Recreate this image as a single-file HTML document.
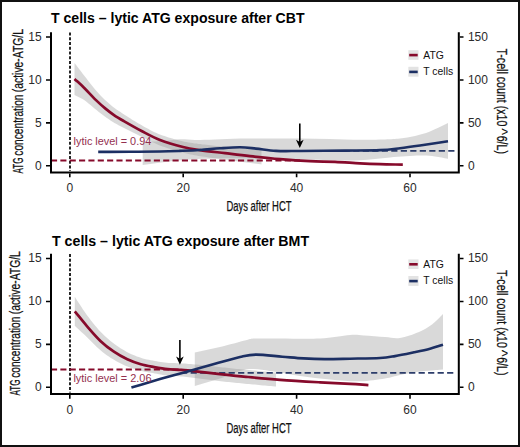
<!DOCTYPE html>
<html><head><meta charset="utf-8"><style>
html,body{margin:0;padding:0;background:#fff;}
#f{position:relative;width:520px;height:447px;box-sizing:border-box;border:2px solid #111;overflow:hidden;background:#fff;}
svg{position:absolute;left:-2px;top:-2px;}
</style></head><body><div id="f">
<svg width="520" height="447" viewBox="0 0 520 447">
<g transform="translate(0,0)">
<path d="M74.5,62.9 L76.5,65.5 L78.5,68.2 L80.5,70.8 L82.5,73.5 L84.5,76.1 L86.5,78.6 L88.5,81.2 L90.5,83.8 L92.5,86.3 L94.5,88.7 L96.5,91.0 L98.5,93.2 L100.5,95.4 L102.5,97.4 L104.5,99.4 L106.5,101.3 L108.5,103.1 L110.5,104.8 L112.5,106.4 L114.5,107.9 L116.5,109.4 L118.5,110.8 L120.5,112.1 L122.5,113.4 L124.5,114.7 L126.5,116.0 L128.5,117.3 L130.5,118.6 L132.5,119.9 L134.5,121.1 L136.5,122.3 L138.5,123.5 L140.5,124.6 L142.5,125.8 L144.5,126.9 L146.5,128.0 L148.5,129.1 L150.5,130.2 L152.5,131.2 L154.5,132.2 L156.5,133.1 L158.5,133.9 L160.5,134.7 L162.5,135.5 L164.5,136.1 L166.5,136.8 L168.5,137.4 L170.5,138.0 L172.5,138.6 L174.5,139.2 L176.5,139.7 L178.5,140.2 L180.5,140.7 L182.5,141.2 L184.5,141.7 L186.5,142.1 L188.5,142.5 L190.5,142.8 L192.5,143.1 L194.5,143.4 L196.5,143.6 L198.5,143.9 L200.5,144.1 L202.5,144.4 L204.5,144.6 L206.5,144.8 L208.5,145.1 L210.5,145.3 L212.5,145.5 L214.5,145.7 L216.5,145.9 L218.5,146.1 L220.5,146.3 L222.5,146.5 L224.5,146.7 L226.5,146.9 L228.5,147.1 L230.5,147.4 L232.5,147.6 L234.5,147.8 L236.5,148.0 L238.5,148.2 L240.5,148.4 L242.5,148.6 L244.5,148.8 L246.5,149.0 L248.5,149.2 L250.5,149.4 L252.5,149.6 L254.5,149.8 L256.5,150.0 L258.5,150.2 L260.5,150.3 L261.5,150.4 L261.5,164.4 L260.5,164.3 L258.5,164.1 L256.5,163.8 L254.5,163.6 L252.5,163.3 L250.5,163.1 L248.5,162.8 L246.5,162.6 L244.5,162.3 L242.5,162.1 L240.5,161.8 L238.5,161.5 L236.5,161.2 L234.5,161.0 L232.5,160.7 L230.5,160.4 L228.5,160.1 L226.5,159.8 L224.5,159.6 L222.5,159.3 L220.5,159.0 L218.5,158.8 L216.5,158.5 L214.5,158.2 L212.5,158.0 L210.5,157.7 L208.5,157.4 L206.5,157.1 L204.5,156.8 L202.5,156.5 L200.5,156.2 L198.5,155.9 L196.5,155.5 L194.5,155.2 L192.5,154.8 L190.5,154.5 L188.5,154.0 L186.5,153.6 L184.5,153.1 L182.5,152.5 L180.5,152.0 L178.5,151.4 L176.5,150.8 L174.5,150.3 L172.5,149.7 L170.5,149.0 L168.5,148.4 L166.5,147.8 L164.5,147.1 L162.5,146.4 L160.5,145.7 L158.5,144.9 L156.5,144.0 L154.5,143.1 L152.5,142.2 L150.5,141.2 L148.5,140.2 L146.5,139.2 L144.5,138.2 L142.5,137.2 L140.5,136.2 L138.5,135.2 L136.5,134.2 L134.5,133.2 L132.5,132.2 L130.5,131.2 L128.5,130.2 L126.5,129.2 L124.5,128.2 L122.5,127.2 L120.5,126.2 L118.5,125.2 L116.5,124.1 L114.5,123.0 L112.5,121.8 L110.5,120.5 L108.5,119.1 L106.5,117.7 L104.5,116.2 L102.5,114.7 L100.5,113.2 L98.5,111.7 L96.5,110.1 L94.5,108.5 L92.5,106.8 L90.5,105.1 L88.5,103.5 L86.5,101.8 L84.5,100.3 L82.5,99.0 L80.5,97.9 L78.5,96.9 L76.5,95.9 L74.5,94.9 Z" fill="#999" fill-opacity="0.37"/>
<path d="M142.70,141.80 C150.13,141.53 158.78,141.42 165.00,141.00 C171.22,140.58 175.00,139.47 180.00,139.30 C185.00,139.13 189.17,139.97 195.00,140.00 C200.83,140.03 207.50,139.73 215.00,139.50 C222.50,139.27 230.83,138.75 240.00,138.60 C249.17,138.45 260.00,138.63 270.00,138.60 C280.00,138.57 290.00,138.33 300.00,138.40 C310.00,138.47 320.00,138.77 330.00,139.00 C340.00,139.23 350.83,139.72 360.00,139.80 C369.17,139.88 378.33,139.70 385.00,139.50 C391.67,139.30 395.00,139.18 400.00,138.60 C405.00,138.02 410.00,137.18 415.00,136.00 C420.00,134.82 424.50,133.65 430.00,131.50 C435.50,129.35 442.00,125.90 448.00,123.10 L448.00,158.80 C443.67,158.03 439.67,157.03 435.00,156.50 C430.33,155.97 427.50,155.43 420.00,155.60 C412.50,155.77 400.00,156.73 390.00,157.50 C380.00,158.27 370.00,159.75 360.00,160.20 C350.00,160.65 340.00,160.32 330.00,160.20 C320.00,160.08 311.67,159.78 300.00,159.50 C288.33,159.22 273.33,158.67 260.00,158.50 C246.67,158.33 231.67,158.33 220.00,158.50 C208.33,158.67 199.17,158.92 190.00,159.50 C180.83,160.08 172.88,161.07 165.00,162.00 C157.12,162.93 150.13,164.07 142.70,165.10 Z" fill="#999" fill-opacity="0.37"/>
<line x1="70" y1="32.5" x2="70" y2="171" stroke="#000" stroke-width="1.7" stroke-dasharray="3,1.75"/>
<line x1="51" y1="160.5" x2="300" y2="160.5" stroke="#860a2b" stroke-width="1.8" stroke-dasharray="6.1,3.25"/>
<line x1="300" y1="150.8" x2="455" y2="150.8" stroke="#2c3d6a" stroke-width="1.7" stroke-dasharray="6.2,3.3" stroke-dashoffset="3.75"/>
<path d="M74.50,78.90 C77.67,81.83 80.42,84.17 84.00,87.70 C87.58,91.23 92.37,96.57 96.00,100.10 C99.63,103.63 102.80,106.40 105.80,108.90 C108.80,111.40 111.02,113.08 114.00,115.10 C116.98,117.12 119.10,118.35 123.70,121.00 C128.30,123.65 135.55,127.83 141.60,131.00 C147.65,134.17 153.10,137.33 160.00,140.00 C166.90,142.67 176.33,145.32 183.00,147.00 C189.67,148.68 193.00,149.07 200.00,150.10 C207.00,151.13 216.67,152.18 225.00,153.20 C233.33,154.22 240.83,155.20 250.00,156.20 C259.17,157.20 270.00,158.37 280.00,159.20 C290.00,160.03 300.83,160.77 310.00,161.20 C319.17,161.63 326.67,161.43 335.00,161.80 C343.33,162.17 352.50,163.00 360.00,163.40 C367.50,163.80 372.87,164.00 380.00,164.20 C387.13,164.40 395.20,164.47 402.80,164.60" fill="none" stroke="#860a2b" stroke-width="2.7" stroke-linecap="butt"/>
<path d="M98.20,151.90 C108.80,151.87 119.70,151.87 130.00,151.80 C140.30,151.73 151.67,151.65 160.00,151.50 C168.33,151.35 173.33,151.15 180.00,150.90 C186.67,150.65 193.33,150.43 200.00,150.00 C206.67,149.57 213.33,148.75 220.00,148.30 C226.67,147.85 234.00,147.25 240.00,147.30 C246.00,147.35 250.00,148.00 256.00,148.60 C262.00,149.20 268.67,150.50 276.00,150.90 C283.33,151.30 288.50,151.05 300.00,151.00 C311.50,150.95 331.67,150.75 345.00,150.60 C358.33,150.45 370.83,150.50 380.00,150.10 C389.17,149.70 393.33,148.97 400.00,148.20 C406.67,147.43 412.00,146.67 420.00,145.50 C428.00,144.33 438.67,142.63 448.00,141.20" fill="none" stroke="#1c2f63" stroke-width="2.6" stroke-linecap="butt"/>
<text x="73.6" y="145.4" font-size="11" fill="#94304f" font-family="'Liberation Sans', sans-serif" textLength="77.7" lengthAdjust="spacingAndGlyphs">lytic level = 0.94</text>
<line x1="299.8" y1="123.5" x2="299.8" y2="144" stroke="#000" stroke-width="1.6"/>
<path d="M296.0,139.7 L299.8,142 L303.6,139.7 L299.8,148 Z" fill="#000"/>
<path d="M51,32.3 V173.5 M50,172.5 H459.8 M458.8,32.3 V173.5" fill="none" stroke="#000" stroke-width="2"/>
<path d="M46,165.80 H50 M459.8,165.80 H463.5 M46,122.87 H50 M459.8,122.87 H463.5 M46,79.93 H50 M459.8,79.93 H463.5 M46,37.00 H50 M459.8,37.00 H463.5 M69.80,173.5 V177.3 M183.20,173.5 V177.3 M296.60,173.5 V177.3 M410.00,173.5 V177.3" stroke="#000" stroke-width="1.6" fill="none"/>
<text x="41.6" y="169.70" font-size="12" text-anchor="end" fill="#2b2b2b" font-family="'Liberation Sans', sans-serif">0</text>
<text x="467.9" y="169.70" font-size="12" fill="#2b2b2b" font-family="'Liberation Sans', sans-serif">0</text>
<text x="41.6" y="126.77" font-size="12" text-anchor="end" fill="#2b2b2b" font-family="'Liberation Sans', sans-serif">5</text>
<text x="467.9" y="126.77" font-size="12" fill="#2b2b2b" font-family="'Liberation Sans', sans-serif">50</text>
<text x="41.6" y="83.83" font-size="12" text-anchor="end" fill="#2b2b2b" font-family="'Liberation Sans', sans-serif">10</text>
<text x="467.9" y="83.83" font-size="12" fill="#2b2b2b" font-family="'Liberation Sans', sans-serif">100</text>
<text x="41.6" y="40.90" font-size="12" text-anchor="end" fill="#2b2b2b" font-family="'Liberation Sans', sans-serif">15</text>
<text x="467.9" y="40.90" font-size="12" fill="#2b2b2b" font-family="'Liberation Sans', sans-serif">150</text>
<text x="69.80" y="192.2" font-size="12" text-anchor="middle" fill="#2b2b2b" font-family="'Liberation Sans', sans-serif">0</text>
<text x="183.20" y="192.2" font-size="12" text-anchor="middle" fill="#2b2b2b" font-family="'Liberation Sans', sans-serif">20</text>
<text x="296.60" y="192.2" font-size="12" text-anchor="middle" fill="#2b2b2b" font-family="'Liberation Sans', sans-serif">40</text>
<text x="410.00" y="192.2" font-size="12" text-anchor="middle" fill="#2b2b2b" font-family="'Liberation Sans', sans-serif">60</text>
<text x="51" y="22.9" font-size="14.3" font-weight="bold" fill="#000" font-family="'Liberation Sans', sans-serif" textLength="253.5" lengthAdjust="spacingAndGlyphs">T cells – lytic ATG exposure after CBT</text>
<text x="226.5" y="211.4" font-size="14" fill="#111" stroke="#111" stroke-width="0.25" font-family="'Liberation Sans', sans-serif" textLength="65" lengthAdjust="spacingAndGlyphs">Days after HCT</text>
<g transform="translate(22.8,173.4) rotate(-90)" font-size="14" fill="#111" stroke="#111" stroke-width="0.25" font-family="'Liberation Sans', sans-serif">
<text x="0" y="0" textLength="15.9" lengthAdjust="spacingAndGlyphs">ATG</text>
<text x="17.7" y="0" textLength="61.2" lengthAdjust="spacingAndGlyphs">concentration</text>
<text x="81.2" y="0" textLength="63.2" lengthAdjust="spacingAndGlyphs">(active-ATG/L</text>
</g>
<g transform="translate(497.4,48.4) rotate(90)" font-size="14" fill="#111" stroke="#111" stroke-width="0.25" font-family="'Liberation Sans', sans-serif">
<text x="0" y="0" textLength="78" lengthAdjust="spacingAndGlyphs">T-cell count (x10</text>
<text x="80.1" y="0" stroke-width="0.1">^</text>
<text x="87.3" y="0" textLength="18.2" lengthAdjust="spacingAndGlyphs">6/L)</text>
</g>
<g transform="translate(0,0)">
<rect x="408.3" y="50.2" width="10.2" height="9.6" fill="#999" fill-opacity="0.28"/>
<rect x="408.3" y="66.8" width="10.2" height="9.9" fill="#999" fill-opacity="0.28"/>
<line x1="409.2" y1="55.1" x2="417.7" y2="55.1" stroke="#860a2b" stroke-width="2.6"/>
<line x1="409.2" y1="71.9" x2="417.7" y2="71.9" stroke="#1c2f63" stroke-width="2.6"/>
<text x="423.3" y="58.5" font-size="10.4" fill="#111" font-family="'Liberation Sans', sans-serif">ATG</text>
<text x="423.3" y="74.6" font-size="10.4" fill="#111" font-family="'Liberation Sans', sans-serif">T cells</text>
</g>
</g>
<g transform="translate(0,221.5)">
<path d="M74.8,75.3 L76.8,78.4 L78.8,81.5 L80.8,84.6 L82.8,87.7 L84.8,90.6 L86.8,93.4 L88.8,96.1 L90.8,98.8 L92.8,101.3 L94.8,103.8 L96.8,106.1 L98.8,108.4 L100.8,110.5 L102.8,112.5 L104.8,114.4 L106.8,116.3 L108.8,118.0 L110.8,119.7 L112.8,121.3 L114.8,122.8 L116.8,124.2 L118.8,125.6 L120.8,126.9 L122.8,128.1 L124.8,129.3 L126.8,130.4 L128.8,131.4 L130.8,132.4 L132.8,133.3 L134.8,134.1 L136.8,134.9 L138.8,135.6 L140.8,136.3 L142.8,136.9 L144.8,137.4 L146.8,137.9 L148.8,138.3 L150.8,138.7 L152.8,139.1 L154.8,139.4 L156.8,139.8 L158.8,140.2 L160.8,140.5 L162.8,140.8 L164.8,141.0 L166.8,141.3 L168.8,141.4 L170.8,141.6 L172.8,141.6 L174.8,141.6 L176.8,141.7 L178.8,141.8 L180.8,141.9 L182.8,142.0 L184.8,142.1 L186.8,142.3 L188.8,142.5 L190.8,142.6 L192.8,142.8 L194.8,143.0 L196.8,143.1 L198.8,143.3 L200.8,143.5 L202.8,143.7 L204.8,143.9 L206.8,144.1 L208.8,144.3 L210.8,144.5 L212.8,144.8 L214.8,145.0 L216.8,145.2 L218.8,145.4 L220.8,145.7 L222.8,145.9 L224.8,146.1 L226.8,146.3 L228.8,146.5 L230.8,146.7 L232.8,147.0 L234.8,147.2 L236.8,147.4 L238.8,147.6 L240.8,147.8 L242.8,148.0 L244.8,148.2 L246.8,148.4 L248.8,148.6 L250.8,148.8 L252.8,148.9 L254.8,149.1 L256.8,149.3 L258.8,149.5 L260.8,149.7 L262.8,149.9 L264.8,150.1 L266.8,150.2 L268.8,150.4 L270.8,150.6 L272.8,150.7 L274.8,150.9 L276.0,151.0 L276.0,165.0 L274.8,164.9 L272.8,164.7 L270.8,164.6 L268.8,164.4 L266.8,164.2 L264.8,164.1 L262.8,163.9 L260.8,163.7 L258.8,163.5 L256.8,163.3 L254.8,163.1 L252.8,162.9 L250.8,162.8 L248.8,162.6 L246.8,162.4 L244.8,162.2 L242.8,162.0 L240.8,161.8 L238.8,161.6 L236.8,161.4 L234.8,161.2 L232.8,161.0 L230.8,160.8 L228.8,160.6 L226.8,160.4 L224.8,160.2 L222.8,159.9 L220.8,159.7 L218.8,159.5 L216.8,159.3 L214.8,159.0 L212.8,158.8 L210.8,158.6 L208.8,158.3 L206.8,158.0 L204.8,157.8 L202.8,157.5 L200.8,157.3 L198.8,157.0 L196.8,156.8 L194.8,156.5 L192.8,156.2 L190.8,156.0 L188.8,155.8 L186.8,155.5 L184.8,155.3 L182.8,155.1 L180.8,154.9 L178.8,154.7 L176.8,154.6 L174.8,154.5 L172.8,154.4 L170.8,154.3 L168.8,154.2 L166.8,153.9 L164.8,153.7 L162.8,153.4 L160.8,153.0 L158.8,152.7 L156.8,152.3 L154.8,152.0 L152.8,151.6 L150.8,151.3 L148.8,150.9 L146.8,150.6 L144.8,150.2 L142.8,149.8 L140.8,149.3 L138.8,148.8 L136.8,148.2 L134.8,147.6 L132.8,147.0 L130.8,146.3 L128.8,145.6 L126.8,144.8 L124.8,143.9 L122.8,143.0 L120.8,142.0 L118.8,141.0 L116.8,140.0 L114.8,138.8 L112.8,137.6 L110.8,136.4 L108.8,135.1 L106.8,133.7 L104.8,132.2 L102.8,130.7 L100.8,129.0 L98.8,127.3 L96.8,125.4 L94.8,123.5 L92.8,121.5 L90.8,119.4 L88.8,117.5 L86.8,115.5 L84.8,113.6 L82.8,111.8 L80.8,109.9 L78.8,108.0 L76.8,106.2 L74.8,104.3 Z" fill="#999" fill-opacity="0.37"/>
<path d="M194.80,131.00 C203.20,129.17 211.47,127.55 220.00,125.50 C228.53,123.45 240.17,120.12 246.00,118.70 C251.83,117.28 249.33,117.28 255.00,117.00 C260.67,116.72 269.17,117.00 280.00,117.00 C290.83,117.00 308.33,117.58 320.00,117.00 C331.67,116.42 342.67,114.00 350.00,113.50 C357.33,113.00 358.17,113.67 364.00,114.00 C369.83,114.33 379.00,115.08 385.00,115.50 C391.00,115.92 394.33,117.33 400.00,116.50 C405.67,115.67 413.67,112.75 419.00,110.50 C424.33,108.25 428.00,106.00 432.00,103.00 C436.00,100.00 439.33,96.00 443.00,92.50 L443.00,148.00 C435.33,148.67 427.17,149.08 420.00,150.00 C412.83,150.92 405.83,152.33 400.00,153.50 C394.17,154.67 391.67,155.95 385.00,157.00 C378.33,158.05 369.17,159.63 360.00,159.80 C350.83,159.97 340.00,158.88 330.00,158.00 C320.00,157.12 310.00,155.92 300.00,154.50 C290.00,153.08 279.00,150.58 270.00,149.50 C261.00,148.42 254.33,146.75 246.00,148.00 C237.67,149.25 228.53,154.27 220.00,157.00 C211.47,159.73 203.20,161.93 194.80,164.40 Z" fill="#999" fill-opacity="0.37"/>
<line x1="70" y1="32.5" x2="70" y2="171" stroke="#000" stroke-width="1.7" stroke-dasharray="3,1.75"/>
<line x1="51" y1="148" x2="180" y2="148" stroke="#860a2b" stroke-width="1.8" stroke-dasharray="6.1,3.25"/>
<line x1="180" y1="151.3" x2="455" y2="151.3" stroke="#2c3d6a" stroke-width="1.7" stroke-dasharray="6.2,3.3" stroke-dashoffset="8.4"/>
<path d="M74.80,89.80 C78.83,94.73 82.63,99.67 86.90,104.60 C91.17,109.53 95.90,115.13 100.40,119.40 C104.90,123.67 109.42,127.13 113.90,130.20 C118.38,133.27 122.82,135.70 127.30,137.80 C131.78,139.90 136.32,141.50 140.80,142.80 C145.28,144.10 149.72,144.78 154.20,145.60 C158.68,146.42 163.20,147.23 167.70,147.70 C172.20,148.17 175.82,147.97 181.20,148.40 C186.58,148.83 193.53,149.60 200.00,150.30 C206.47,151.00 212.33,151.77 220.00,152.60 C227.67,153.43 236.00,154.35 246.00,155.30 C256.00,156.25 267.67,157.38 280.00,158.30 C292.33,159.22 308.33,160.13 320.00,160.80 C331.67,161.47 341.93,161.83 350.00,162.30 C358.07,162.77 362.27,163.17 368.40,163.60" fill="none" stroke="#860a2b" stroke-width="2.7" stroke-linecap="butt"/>
<path d="M131.40,166.00 C140.93,163.20 150.90,160.20 160.00,157.60 C169.10,155.00 176.83,152.95 186.00,150.40 C195.17,147.85 206.00,144.78 215.00,142.30 C224.00,139.82 233.17,137.03 240.00,135.50 C246.83,133.97 248.95,133.15 256.00,133.10 C263.05,133.05 274.38,134.57 282.30,135.20 C290.22,135.83 296.45,136.50 303.50,136.90 C310.55,137.30 316.85,137.55 324.60,137.60 C332.35,137.65 340.77,137.38 350.00,137.20 C359.23,137.02 372.50,136.93 380.00,136.50 C387.50,136.07 389.33,135.55 395.00,134.60 C400.67,133.65 408.17,132.03 414.00,130.80 C419.83,129.57 425.17,128.47 430.00,127.20 C434.83,125.93 438.67,124.53 443.00,123.20" fill="none" stroke="#1c2f63" stroke-width="2.6" stroke-linecap="butt"/>
<text x="73.4" y="160.6" font-size="11" fill="#94304f" font-family="'Liberation Sans', sans-serif" textLength="78.1" lengthAdjust="spacingAndGlyphs">lytic level = 2.06</text>
<line x1="179.9" y1="118.6" x2="179.9" y2="139.2" stroke="#000" stroke-width="1.6"/>
<path d="M176.1,134.89999999999998 L179.9,137.2 L183.70000000000002,134.89999999999998 L179.9,143.2 Z" fill="#000"/>
<path d="M51,32.3 V173.5 M50,172.5 H459.8 M458.8,32.3 V173.5" fill="none" stroke="#000" stroke-width="2"/>
<path d="M46,165.80 H50 M459.8,165.80 H463.5 M46,122.87 H50 M459.8,122.87 H463.5 M46,79.93 H50 M459.8,79.93 H463.5 M46,37.00 H50 M459.8,37.00 H463.5 M69.80,173.5 V177.3 M183.20,173.5 V177.3 M296.60,173.5 V177.3 M410.00,173.5 V177.3" stroke="#000" stroke-width="1.6" fill="none"/>
<text x="41.6" y="169.70" font-size="12" text-anchor="end" fill="#2b2b2b" font-family="'Liberation Sans', sans-serif">0</text>
<text x="467.9" y="169.70" font-size="12" fill="#2b2b2b" font-family="'Liberation Sans', sans-serif">0</text>
<text x="41.6" y="126.77" font-size="12" text-anchor="end" fill="#2b2b2b" font-family="'Liberation Sans', sans-serif">5</text>
<text x="467.9" y="126.77" font-size="12" fill="#2b2b2b" font-family="'Liberation Sans', sans-serif">50</text>
<text x="41.6" y="83.83" font-size="12" text-anchor="end" fill="#2b2b2b" font-family="'Liberation Sans', sans-serif">10</text>
<text x="467.9" y="83.83" font-size="12" fill="#2b2b2b" font-family="'Liberation Sans', sans-serif">100</text>
<text x="41.6" y="40.90" font-size="12" text-anchor="end" fill="#2b2b2b" font-family="'Liberation Sans', sans-serif">15</text>
<text x="467.9" y="40.90" font-size="12" fill="#2b2b2b" font-family="'Liberation Sans', sans-serif">150</text>
<text x="69.80" y="192.2" font-size="12" text-anchor="middle" fill="#2b2b2b" font-family="'Liberation Sans', sans-serif">0</text>
<text x="183.20" y="192.2" font-size="12" text-anchor="middle" fill="#2b2b2b" font-family="'Liberation Sans', sans-serif">20</text>
<text x="296.60" y="192.2" font-size="12" text-anchor="middle" fill="#2b2b2b" font-family="'Liberation Sans', sans-serif">40</text>
<text x="410.00" y="192.2" font-size="12" text-anchor="middle" fill="#2b2b2b" font-family="'Liberation Sans', sans-serif">60</text>
<text x="52" y="24.8" font-size="14.3" font-weight="bold" fill="#000" font-family="'Liberation Sans', sans-serif" textLength="257.1" lengthAdjust="spacingAndGlyphs">T cells – lytic ATG exposure after BMT</text>
<text x="226.5" y="211.4" font-size="14" fill="#111" stroke="#111" stroke-width="0.25" font-family="'Liberation Sans', sans-serif" textLength="65" lengthAdjust="spacingAndGlyphs">Days after HCT</text>
<g transform="translate(20.1,174.0) rotate(-90)" font-size="14" fill="#111" stroke="#111" stroke-width="0.25" font-family="'Liberation Sans', sans-serif">
<text x="0" y="0" textLength="15.9" lengthAdjust="spacingAndGlyphs">ATG</text>
<text x="17.7" y="0" textLength="61.2" lengthAdjust="spacingAndGlyphs">concentration</text>
<text x="81.2" y="0" textLength="63.2" lengthAdjust="spacingAndGlyphs">(active-ATG/L</text>
</g>
<g transform="translate(497.4,48.4) rotate(90)" font-size="14" fill="#111" stroke="#111" stroke-width="0.25" font-family="'Liberation Sans', sans-serif">
<text x="0" y="0" textLength="78" lengthAdjust="spacingAndGlyphs">T-cell count (x10</text>
<text x="80.1" y="0" stroke-width="0.1">^</text>
<text x="87.3" y="0" textLength="18.2" lengthAdjust="spacingAndGlyphs">6/L)</text>
</g>
<g transform="translate(0,-12.3)">
<rect x="408.3" y="50.2" width="10.2" height="9.6" fill="#999" fill-opacity="0.28"/>
<rect x="408.3" y="66.8" width="10.2" height="9.9" fill="#999" fill-opacity="0.28"/>
<line x1="409.2" y1="55.1" x2="417.7" y2="55.1" stroke="#860a2b" stroke-width="2.6"/>
<line x1="409.2" y1="71.9" x2="417.7" y2="71.9" stroke="#1c2f63" stroke-width="2.6"/>
<text x="423.3" y="58.5" font-size="10.4" fill="#111" font-family="'Liberation Sans', sans-serif">ATG</text>
<text x="423.3" y="74.6" font-size="10.4" fill="#111" font-family="'Liberation Sans', sans-serif">T cells</text>
</g>
</g>
</svg></div></body></html>
